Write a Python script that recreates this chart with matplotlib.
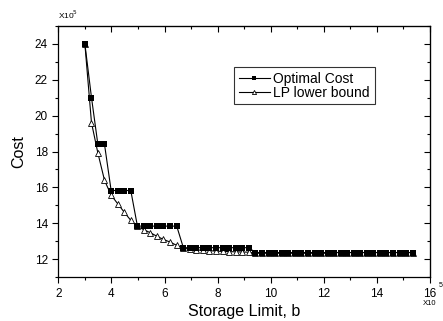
import matplotlib
matplotlib.use("Agg")
import matplotlib.pyplot as plt
from matplotlib.ticker import MultipleLocator

plt.rcParams['font.family'] = ['Liberation Sans', 'DejaVu Sans']

# storage limit b (x10^5)
storage = [3.00, 3.25, 3.49, 3.74, 3.99, 4.24, 4.48, 4.73, 4.98, 5.22,
           5.47, 5.72, 5.96, 6.21, 6.46, 6.71, 6.95, 7.20, 7.45, 7.69,
           7.94, 8.19, 8.43, 8.68, 8.93, 9.18, 9.42, 9.67, 9.92, 10.16,
           10.41, 10.66, 10.90, 11.15, 11.40, 11.65, 11.89, 12.14, 12.39, 12.63,
           12.88, 13.13, 13.37, 13.62, 13.87, 14.12, 14.36, 14.61, 14.86, 15.10,
           15.35]

# cost (x10^5)
optimal_cost = [24.0, 21.0, 18.4, 18.4, 15.83, 15.83, 15.83, 15.83, 13.85, 13.85,
                13.85, 13.85, 13.85, 13.85, 13.85, 12.65, 12.65, 12.65, 12.65, 12.65,
                12.65, 12.65, 12.65, 12.65, 12.65, 12.65, 12.38, 12.38, 12.38, 12.38,
                12.38, 12.38, 12.38, 12.38, 12.38, 12.38, 12.38, 12.38, 12.38, 12.38,
                12.38, 12.38, 12.38, 12.38, 12.38, 12.38, 12.38, 12.38, 12.38, 12.38,
                12.38]

lp_bound = [24.0, 19.6, 17.92, 16.4, 15.57, 15.09, 14.63, 14.17, 13.83, 13.65,
            13.48, 13.28, 13.11, 12.96, 12.78, 12.62, 12.57, 12.53, 12.50, 12.48,
            12.46, 12.44, 12.43, 12.42, 12.41, 12.40, 12.34, 12.34, 12.34, 12.34,
            12.34, 12.34, 12.34, 12.34, 12.34, 12.34, 12.34, 12.34, 12.38, 12.38,
            12.38, 12.38, 12.38, 12.38, 12.38, 12.38, 12.38, 12.38, 12.38, 12.38,
            12.38]

fig = plt.figure(figsize=(4.43, 3.21), dpi=100)
ax = fig.add_axes([0.1316, 0.136, 0.8391, 0.784])

ax.plot(storage, lp_bound, color='black', lw=0.8, marker='^', ms=5.0,
        mfc='white', mec='black', mew=0.6, label='LP lower bound', zorder=2)
ax.plot(storage, optimal_cost, color='black', lw=0.8, marker='s', ms=4.5,
        mfc='black', mec='black', mew=0, label='Optimal Cost', zorder=3)

ax.set_xlim(2, 16)
ax.set_ylim(11, 25)
ax.xaxis.set_minor_locator(MultipleLocator(1))
ax.yaxis.set_minor_locator(MultipleLocator(1))
ax.set_yticks([12, 14, 16, 18, 20, 22, 24])
ax.set_xticks([2, 4, 6, 8, 10, 12, 14, 16])

ax.tick_params(which='both', direction='out', labelsize=8.5, width=0.8)
ax.tick_params(which='major', length=4)
ax.tick_params(which='minor', length=2.5)
for s in ax.spines.values():
    s.set_linewidth(0.9)

# mirrored inward ticks on top and right
top = ax.secondary_xaxis('top')
top.set_xticks([2, 4, 6, 8, 10, 12, 14, 16])
top.xaxis.set_minor_locator(MultipleLocator(1))
top.tick_params(which='both', direction='in', labeltop=False, width=0.8)
top.tick_params(which='major', length=4)
top.tick_params(which='minor', length=2.5)
right = ax.secondary_yaxis('right')
right.set_yticks([12, 14, 16, 18, 20, 22, 24])
right.yaxis.set_minor_locator(MultipleLocator(1))
right.tick_params(which='both', direction='in', labelright=False, width=0.8)
right.tick_params(which='major', length=4)
right.tick_params(which='minor', length=2.5)

ax.set_xlabel('Storage Limit, b', fontsize=11.5, labelpad=3)
ax.set_ylabel('Cost', fontsize=11.5, labelpad=6)

# multipliers
ax.text(1.024, -0.02, '5', transform=ax.transAxes, fontsize=5, ha='left', va='top')
ax.text(1.0, -0.092, 'X10', transform=ax.transAxes, fontsize=5.5, ha='center', va='top')
ax.text(0.0, 1.02, r'X10$^5$', transform=ax.transAxes, fontsize=6, ha='left', va='bottom')

handles, labels = ax.get_legend_handles_labels()
leg = ax.legend(handles[::-1], labels[::-1], loc='upper left',
                bbox_to_anchor=(0.4735, 0.837), borderaxespad=0,
                fontsize=10, frameon=True, fancybox=False, handlelength=2.2,
                handletextpad=0.25, borderpad=0.35, labelspacing=0.0,
                markerscale=0.6)
leg.get_frame().set_edgecolor('black')
leg.get_frame().set_linewidth(0.8)

fig.savefig('out.png', dpi=100)
